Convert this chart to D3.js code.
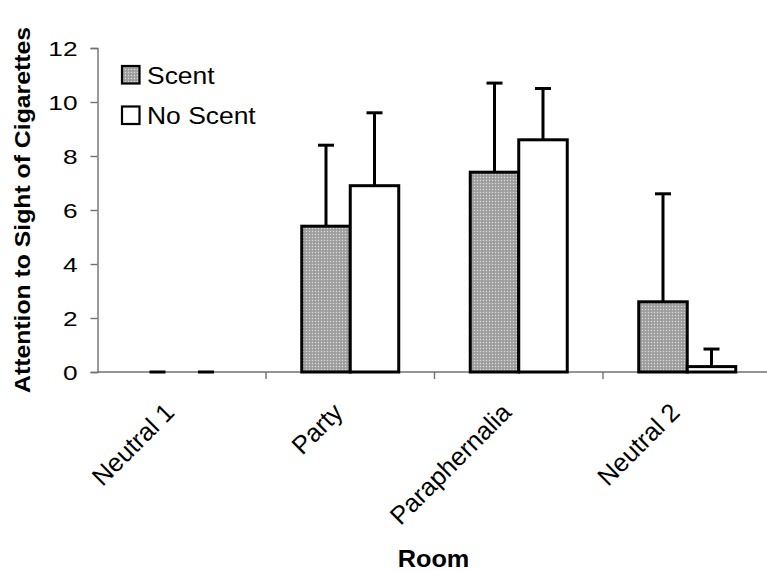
<!DOCTYPE html>
<html>
<head>
<meta charset="utf-8">
<script src="https://cdn.jsdelivr.net/npm/d3@7"></script>
<style>
  html, body { margin: 0; padding: 0; background: #fff; }
  svg { display: block; font-family: "Liberation Sans", Arial, sans-serif; }
</style>
</head>
<body>
<svg id="chart" width="767" height="571"></svg>
<script>
// ---- data ----
const categories = ["Neutral 1", "Party", "Paraphernalia", "Neutral 2"];
const seriesNames = ["Scent", "No Scent"];
const scentValues = [0, 5.4, 7.4, 2.6];
const scentErrors = [0, 3.0, 3.3, 4.0];
const noScentValues = [0, 6.9, 8.6, 0.2];
const noScentErrors = [0, 2.7, 1.9, 0.65];
const yTicks = [0, 2, 4, 6, 8, 10, 12];
const yTitle = "Attention to Sight of Cigarettes";
const xTitle = "Room";

const rows = [];
categories.forEach((c, i) => {
  rows.push({ cat: c, series: "Scent", value: scentValues[i], err: scentErrors[i] });
  rows.push({ cat: c, series: "No Scent", value: noScentValues[i], err: noScentErrors[i] });
});

const svg = d3.select("#chart");
const plot = { left: 97.5, right: 771.5, top: 48, bottom: 372 };

// pattern for scent bars
const defs = svg.append("defs");
const pat = defs.append("pattern").attr("id", "dots")
  .attr("width", 3).attr("height", 3).attr("patternUnits", "userSpaceOnUse");
pat.append("rect").attr("width", 3).attr("height", 3).attr("fill", "#a4a4a4");
pat.append("rect").attr("x", 0).attr("y", 0).attr("width", 1).attr("height", 1).attr("fill", "#dcdcdc");
pat.append("rect").attr("x", 1.5).attr("y", 1.5).attr("width", 1).attr("height", 1).attr("fill", "#8c8c8c");

const x = d3.scaleBand().domain(categories).range([plot.left, plot.right]).padding(0);
const inner = d3.scaleBand().domain(seriesNames).range([-48.5, 48.5]).padding(0);
const y = d3.scaleLinear().domain([0, 12]).range([plot.bottom, plot.top]);
const fillOf = s => s === "Scent" ? "url(#dots)" : "#ffffff";

// Y axis
const yAxis = svg.append("g").attr("transform", `translate(${plot.left},0)`)
  .call(d3.axisLeft(y).tickValues(yTicks).tickSize(7).tickPadding(6).tickFormat(d3.format("d")));
yAxis.select(".domain").attr("stroke", "#707070").attr("stroke-width", 1.4);
yAxis.selectAll(".tick line").attr("stroke", "#707070").attr("stroke-width", 1.4);
yAxis.selectAll(".tick text").remove();
yAxis.selectAll(".tick").append("g")
  .attr("transform", "translate(-20,0) scale(1.25,1)")
  .append("text")
  .attr("text-anchor", "end").attr("dy", "0.36em")
  .attr("font-size", 21).attr("fill", "#000")
  .text(d => d);

// X axis
const xAxisG = svg.append("g").attr("transform", `translate(0,${plot.bottom})`);
xAxisG.append("line").attr("x1", plot.left).attr("x2", 767)
  .attr("stroke", "#707070").attr("stroke-width", 1.4);
xAxisG.selectAll("line.tk").data(categories.slice(1)).join("line").attr("class", "tk")
  .attr("x1", d => x(d)).attr("x2", d => x(d)).attr("y1", 0).attr("y2", 7)
  .attr("stroke", "#707070").attr("stroke-width", 1.4);

// bars
const bars = svg.append("g");
bars.selectAll("rect").data(rows.filter(d => d.value > 0)).join("rect")
  .attr("x", d => x(d.cat) + x.bandwidth() / 2 + inner(d.series))
  .attr("y", d => y(d.value))
  .attr("width", inner.bandwidth())
  .attr("height", d => y(0) - y(d.value))
  .attr("fill", d => fillOf(d.series))
  .attr("stroke", "#000").attr("stroke-width", 3);

// error bars (upper only)
const eb = svg.append("g").attr("stroke", "#000").attr("stroke-width", 3);
const cx = d => x(d.cat) + x.bandwidth() / 2 + inner(d.series) + inner.bandwidth() / 2;
eb.selectAll("line.v").data(rows.filter(d => d.err > 0)).join("line").attr("class", "v")
  .attr("x1", cx).attr("x2", cx)
  .attr("y1", d => y(d.value)).attr("y2", d => y(d.value + d.err));
eb.selectAll("line.c").data(rows).join("line").attr("class", "c")
  .attr("x1", d => cx(d) - 8).attr("x2", d => cx(d) + 8)
  .attr("y1", d => y(d.value + d.err)).attr("y2", d => y(d.value + d.err));

// category labels
svg.append("g").selectAll("text").data(categories).join("text")
  .attr("transform", d => `translate(${x(d) + x.bandwidth() / 2 - 6},${plot.bottom + 42}) rotate(-45)`)
  .attr("text-anchor", "end")
  .attr("font-size", 25.5).attr("fill", "#000")
  .text(d => d);

// axis titles
svg.append("text")
  .attr("transform", `translate(30,${(plot.top + plot.bottom) / 2 + 0}) rotate(-90)`)
  .attr("text-anchor", "middle").attr("font-weight", "bold").attr("font-size", 22.5)
  .attr("textLength", 366).attr("lengthAdjust", "spacingAndGlyphs")
  .text(yTitle);

svg.append("g").attr("transform", `translate(${(plot.left + plot.right) / 2 - 1},567) scale(1.1,1)`)
  .append("text").attr("text-anchor", "middle").attr("font-weight", "bold").attr("font-size", 23)
  .text(xTitle);

// legend
const legend = svg.append("g");
const lg = legend.selectAll("g").data(seriesNames).join("g")
  .attr("transform", (d, i) => `translate(122,${66 + i * 40.5})`);
lg.append("rect").attr("width", 17.5).attr("height", 17.5)
  .attr("fill", d => fillOf(d)).attr("stroke", "#000").attr("stroke-width", 2.2);
lg.append("g").attr("transform", "translate(25,17.5) scale(1.15,1)")
  .append("text").attr("font-size", 23).attr("fill", "#000").text(d => d);
</script>
</body>
</html>
